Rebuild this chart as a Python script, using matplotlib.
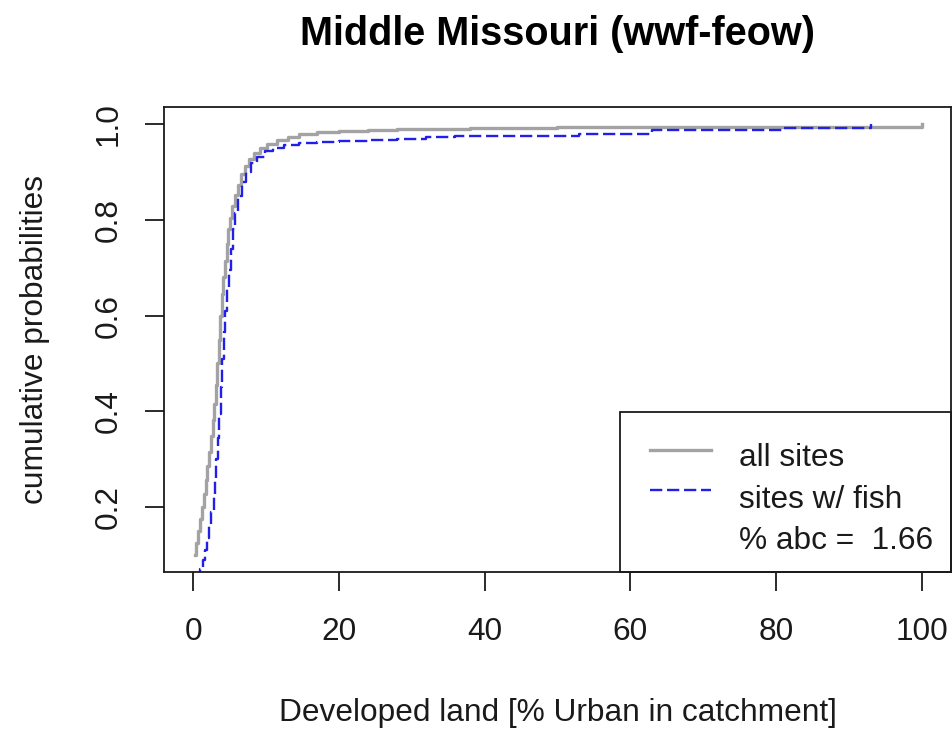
import matplotlib
matplotlib.use('Agg')
import matplotlib.pyplot as plt
from matplotlib.patches import Rectangle

plt.rcParams['font.family'] = ['Liberation Sans', 'DejaVu Sans']

# ---- data: ECDF step knots ----
all_x = [0.2, 0.45, 0.7, 0.95, 1.2, 1.45, 1.7, 1.95, 2.2, 2.45, 2.7, 2.9, 3.1, 3.3,
         3.5, 3.7, 3.9, 4.1, 4.35, 4.6, 4.85, 5.1, 5.4, 5.75, 6.1, 6.6, 7.1, 7.7,
         8.4, 9.2, 10.2, 11.5, 13.0, 14.5, 17.0, 20.0, 24.0, 28.0, 38.0, 50.0, 100.0]
all_y = [0.100, 0.125, 0.150, 0.175, 0.200, 0.228, 0.256, 0.285, 0.315, 0.348, 0.382,
         0.415, 0.455, 0.500, 0.548, 0.600, 0.645, 0.680, 0.715, 0.750, 0.780, 0.805,
         0.830, 0.853, 0.873, 0.895, 0.912, 0.927, 0.940, 0.950, 0.959, 0.967, 0.974,
         0.979, 0.983, 0.986, 0.988, 0.990, 0.992, 0.995, 1.000]

fish_x = [0.7, 1.0, 1.3, 1.6, 1.9, 2.2, 2.5, 2.8, 3.0, 3.2, 3.4, 3.6, 3.8, 4.0, 4.2,
          4.4, 4.65, 4.9, 5.2, 5.5, 5.8, 6.2, 6.7, 7.3, 8.0, 8.8, 9.8, 11.0, 12.5,
          14.5, 17.0, 20.0, 24.0, 28.0, 32.0, 36.0, 53.0, 63.0, 81.0, 93.0]
fish_y = [0.050, 0.070, 0.090, 0.110, 0.135, 0.160, 0.190, 0.225, 0.260, 0.300, 0.345,
          0.395, 0.450, 0.510, 0.565, 0.610, 0.655, 0.695, 0.740, 0.780, 0.815, 0.850,
          0.880, 0.900, 0.918, 0.932, 0.943, 0.950, 0.956, 0.960, 0.962, 0.964, 0.967,
          0.970, 0.973, 0.976, 0.980, 0.987, 0.993, 1.000]

x_ticks = [0, 20, 40, 60, 80, 100]
y_ticks = [0.2, 0.4, 0.6, 0.8, 1.0]
y_tick_labels = ['0.2', '0.4', '0.6', '0.8', '1.0']
title = 'Middle Missouri (wwf-feow)'
x_label = 'Developed land [% Urban in catchment]'
y_label = 'cumulative probabilities'
legend_labels = ['all sites', 'sites w/ fish', '% abc =  1.66']

# ---- styles ----
grey = '#a3a3a3'
blue = '#2020e8'
ink = '#1a1a1a'
fs = 22.8
dash = (0, (5.2, 2.0))

fig = plt.figure(figsize=(9.53, 7.32), dpi=100)
ax = fig.add_axes([164 / 953, 160 / 732, 787 / 953, 465 / 732])

ax.step(all_x, all_y, where='post', color=grey, lw=2.4)
ax.step(fish_x, fish_y, where='post', color=blue, lw=1.7, linestyle=dash)

ax.set_xlim(-4, 104)
ax.set_ylim(0.064, 1.036)
ax.set_xticks(x_ticks)
ax.set_xticklabels([str(v) for v in x_ticks])
ax.set_yticks(y_ticks)
ax.set_yticklabels(y_tick_labels, rotation=90, va='center')

for s in ax.spines.values():
    s.set_linewidth(1.3)
    s.set_color(ink)

ax.tick_params(axis='both', length=13.7, width=1.3, color=ink,
               labelsize=fs, labelcolor=ink)
ax.tick_params(axis='x', pad=19.0)
ax.tick_params(axis='y', pad=15.2)

ax.set_title(title, fontsize=28.5, fontweight='bold', pad=44.6, color='black')
ax.set_xlabel(x_label, fontsize=fs, color=ink, va='top')
ax.xaxis.set_label_coords(0.5, -0.271)
ax.set_ylabel(y_label, fontsize=fs, color=ink)
ax.yaxis.set_label_coords(-0.1449, 0.5)

# ---- legend (bottom right, R style) ----
box_left = 0.579
box_top = 0.344
ax.add_patch(Rectangle((box_left, 0), 1 - box_left, box_top, transform=ax.transAxes,
                       fill=False, edgecolor=ink, lw=1.3, clip_on=False, zorder=5))
ax.plot([0.617, 0.695], [0.262, 0.262], transform=ax.transAxes, color=grey, lw=2.4,
        clip_on=False, zorder=6)
ax.plot([0.617, 0.695], [0.176, 0.176], transform=ax.transAxes, color=blue, lw=1.7,
        linestyle=dash, clip_on=False, zorder=6)
for lab, yb in zip(legend_labels, [0.228, 0.1376, 0.0495]):
    ax.text(0.731, yb, lab, transform=ax.transAxes, fontsize=fs, color=ink,
            va='baseline', ha='left', zorder=6)

fig.savefig('out.png', dpi=100)
